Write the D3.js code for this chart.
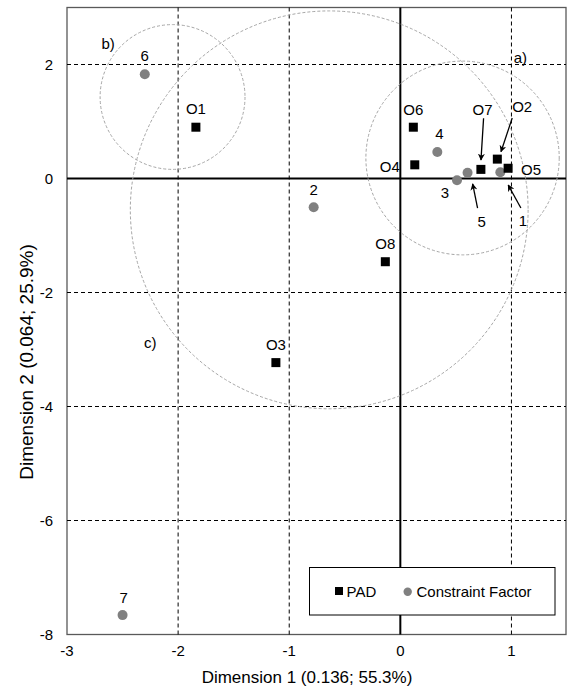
<!DOCTYPE html>
<html>
<head>
<meta charset="utf-8">
<script src="https://cdn.jsdelivr.net/npm/d3@7"></script>
<style>
  html, body { margin: 0; padding: 0; background: #fff; }
  svg { display: block; font-family: "Liberation Sans", Arial, sans-serif; }
</style>
</head>
<body>
<svg id="chart" width="567" height="689"></svg>
<script>
// ---- Data ----
const padNames = ["O1", "O2", "O3", "O4", "O5", "O6", "O7", "O8"];
const padX     = [-1.84, 0.873, -1.12, 0.13, 0.97, 0.117, 0.725, -0.135];
const padY     = [0.90, 0.34, -3.23, 0.24, 0.18, 0.90, 0.16, -1.46];

const cfNames = ["1", "2", "3", "4", "5", "6", "7"];
const cfX     = [0.90, -0.78, 0.51, 0.333, 0.605, -2.30, -2.50];
const cfY     = [0.11, -0.505, -0.03, 0.465, 0.10, 1.83, -7.66];

const xTicks = [-3, -2, -1, 0, 1];
const yTicks = [-8, -6, -4, -2, 0, 2];
const xGrid = [-2, -1, 1];
const yGrid = [-6, -4, -2, 2];

// group ellipses (centre and radii in data units)
const groupNames = ["a)", "b)", "c)"];
const groupCX = [0.56, -2.05, -0.64];
const groupCY = [0.36, 1.43, -0.55];
const groupRX = [0.87, 0.652, 1.79];
const groupRY = [1.70, 1.27, 3.49];
const groupLabelX = [1.08, -2.63, -2.25];
const groupLabelY = [2.12, 2.36, -2.89];

// arrows: tail -> head (data units), for labels placed at arrow tails
const arrowFor = ["O7", "O2", "5", "1"];
const arrowX1 = [0.749, 1.007, 0.695, 1.085];
const arrowY1 = [1.056, 1.061, -0.518, -0.518];
const arrowX2 = [0.726, 0.906, 0.651, 0.971];
const arrowY2 = [0.325, 0.47, -0.096, -0.114];

const xTitle = "Dimension 1 (0.136; 55.3%)";
const yTitle = "Dimension 2 (0.064; 25.9%)";
const legendLabels = ["PAD", "Constraint Factor"];

// ---- Layout ----
const svg = d3.select("#chart");
const L = 67, R = 567, T = 7.5, B = 634.5;
const x = d3.scaleLinear().domain([-3, 1.5]).range([L, R]);
const y = d3.scaleLinear().domain([-8, 3]).range([B, T]);

// frame
svg.append("rect").attr("x", L).attr("y", T).attr("width", 566 - L).attr("height", B - T)
  .attr("fill", "none").attr("stroke", "#595959").attr("stroke-width", 1.3);

// grid
svg.append("g").selectAll("line").data(xGrid).join("line")
  .attr("x1", d => x(d)).attr("x2", d => x(d)).attr("y1", T).attr("y2", B)
  .attr("stroke", "#000").attr("stroke-width", 1).attr("stroke-dasharray", "4,3");
svg.append("g").selectAll("line").data(yGrid).join("line")
  .attr("y1", d => y(d)).attr("y2", d => y(d)).attr("x1", L).attr("x2", 566)
  .attr("stroke", "#000").attr("stroke-width", 1).attr("stroke-dasharray", "4,3");

// zero axes
svg.append("line").attr("x1", x(0)).attr("x2", x(0)).attr("y1", T).attr("y2", B)
  .attr("stroke", "#000").attr("stroke-width", 2);
svg.append("line").attr("x1", L).attr("x2", 566).attr("y1", y(0)).attr("y2", y(0))
  .attr("stroke", "#000").attr("stroke-width", 2);

// tick labels
svg.append("g").selectAll("text").data(xTicks).join("text")
  .attr("x", d => x(d)).attr("y", 651).attr("dy", "0.35em")
  .attr("text-anchor", "middle").attr("font-size", 15).text(d => d);
svg.append("g").selectAll("text").data(yTicks).join("text")
  .attr("x", 53).attr("y", d => y(d)).attr("dy", "0.35em")
  .attr("text-anchor", "end").attr("font-size", 15).text(d => d);

// titles
svg.append("text").attr("x", 307).attr("y", 677).attr("dy", "0.35em")
  .attr("text-anchor", "middle").attr("font-size", 17).text(xTitle);
svg.append("text").attr("transform", `translate(26,362) rotate(-90)`)
  .attr("dy", "0.35em").attr("text-anchor", "middle").attr("font-size", 19).text(yTitle);

// ellipses
const groups = groupNames.map((n, i) => ({ n, cx: groupCX[i], cy: groupCY[i], rx: groupRX[i], ry: groupRY[i], lx: groupLabelX[i], ly: groupLabelY[i] }));
svg.append("g").selectAll("ellipse").data(groups).join("ellipse")
  .attr("cx", d => x(d.cx)).attr("cy", d => y(d.cy))
  .attr("rx", d => x(d.cx + d.rx) - x(d.cx)).attr("ry", d => y(d.cy - d.ry) - y(d.cy))
  .attr("fill", "none").attr("stroke", "#a6a6a6").attr("stroke-width", 1).attr("stroke-dasharray", "3,2");
svg.append("g").selectAll("text").data(groups).join("text")
  .attr("x", d => x(d.lx)).attr("y", d => y(d.ly)).attr("dy", "0.35em")
  .attr("text-anchor", "middle").attr("font-size", 15).text(d => d.n);

// arrow marker
svg.append("defs").append("marker").attr("id", "arr")
  .attr("viewBox", "0 0 10 10").attr("refX", 9).attr("refY", 5)
  .attr("markerWidth", 7).attr("markerHeight", 7).attr("orient", "auto")
  .attr("markerUnits", "userSpaceOnUse")
  .append("path").attr("d", "M0,0 L10,5 L0,10 L3,5 Z").attr("fill", "#000");

const arrows = arrowFor.map((n, i) => ({ n, x1: arrowX1[i], y1: arrowY1[i], x2: arrowX2[i], y2: arrowY2[i] }));
svg.append("g").selectAll("line").data(arrows).join("line")
  .attr("x1", d => x(d.x1)).attr("y1", d => y(d.y1))
  .attr("x2", d => x(d.x2)).attr("y2", d => y(d.y2))
  .attr("stroke", "#000").attr("stroke-width", 1.3).attr("marker-end", "url(#arr)");

// points
const pad = padNames.map((n, i) => ({ n, x: padX[i], y: padY[i] }));
const cf = cfNames.map((n, i) => ({ n, x: cfX[i], y: cfY[i] }));

svg.append("g").selectAll("circle").data(cf).join("circle")
  .attr("cx", d => x(d.x)).attr("cy", d => y(d.y)).attr("r", 5).attr("fill", "#808080");
svg.append("g").selectAll("rect").data(pad).join("rect")
  .attr("x", d => x(d.x) - 4.5).attr("y", d => y(d.y) - 4.5)
  .attr("width", 9).attr("height", 9).attr("fill", "#000");

// label placement (pixel offsets from point or arrow tail)
const labelPlace = {
  "O1": [0, -18, "middle"], "O3": [0, -18, "middle"], "O8": [0, -18, "middle"],
  "O6": [0, -17, "middle"], "O4": [-15, 2, "end"], "O5": [13, 2, "start"],
  "2": [0, -18, "middle"], "4": [2, -18, "middle"], "6": [0, -18, "middle"],
  "7": [1, -17, "middle"], "3": [-12, 13, "middle"],
  "O7": [-1, -9, "middle"], "O2": [10, -11, "middle"], "5": [4, 14, "middle"], "1": [2, 13, "middle"]
};
const labels = [];
pad.concat(cf).forEach(d => {
  const a = arrows.find(r => r.n === d.n);
  const bx = a ? x(a.x1) : x(d.x), by = a ? y(a.y1) : y(d.y);
  const p = labelPlace[d.n];
  labels.push({ n: d.n, px: bx + p[0], py: by + p[1], anchor: p[2] });
});
svg.append("g").selectAll("text").data(labels).join("text")
  .attr("x", d => d.px).attr("y", d => d.py).attr("dy", "0.35em")
  .attr("text-anchor", d => d.anchor).attr("font-size", 15).text(d => d.n);

// legend
const lg = svg.append("g");
lg.append("rect").attr("x", 309.5).attr("y", 567.5).attr("width", 245.5).attr("height", 47.5)
  .attr("fill", "#fff").attr("stroke", "#000").attr("stroke-width", 1);
lg.append("rect").attr("x", 335).attr("y", 587).attr("width", 8).attr("height", 8).attr("fill", "#000");
lg.append("text").attr("x", 346.5).attr("y", 591.5).attr("dy", "0.35em").attr("font-size", 15).text(legendLabels[0]);
lg.append("circle").attr("cx", 407.7).attr("cy", 591.7).attr("r", 4.2).attr("fill", "#808080");
lg.append("text").attr("x", 416.5).attr("y", 591.5).attr("dy", "0.35em").attr("font-size", 15).text(legendLabels[1]);
</script>
</body>
</html>
